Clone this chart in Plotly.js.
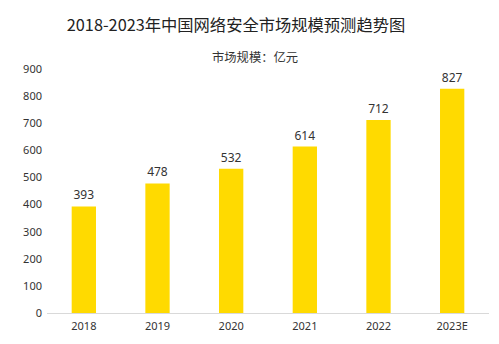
<!DOCTYPE html>
<html><head><meta charset="utf-8">
<script src="https://cdn.plot.ly/plotly-3.0.1.min.js"></script>
<style>html,body{margin:0;padding:0;background:#fff}#c{width:499px;height:344px}</style>
</head><body><div id="c"></div>
<script>
const categories = ["2018","2019","2020","2021","2022","2023E"];
const values = [393,478,532,614,712,827];
const yTicks = [0,100,200,300,400,500,600,700,800,900];

const trace = {
  type:"bar", x:categories, y:values,
  marker:{color:"#FFDA00"},
  text:values.map(String), textposition:"outside",
  textfont:{family:"Noto Sans, sans-serif", size:12, color:"#333"},
  cliponaxis:false, hoverinfo:"none"
};
const layout = {
  width:499, height:344,
  margin:{l:47, r:10, t:69, b:31},
  paper_bgcolor:"#fff", plot_bgcolor:"#fff",
  bargap:0.67,
  showlegend:false,
  font:{family:"Noto Sans, sans-serif", color:"#333"},
  title:{text:"2018-2023年中国网络安全市场规模预测趋势图", x:0.473, xanchor:"center", y:(344-25)/344, yanchor:"middle",
    font:{family:"Noto Sans CJK SC, sans-serif", size:16.3, color:"#222"}},
  annotations:[{text:"市场规模：亿元", xref:"paper", yref:"paper", x:0.47, y:(344-57-31)/(344-69-31), xanchor:"center", yanchor:"middle",
    showarrow:false, font:{family:"Noto Sans CJK SC, sans-serif", size:12.3, color:"#333"}}],
  xaxis:{type:"category", showline:true, linecolor:"#d9d9d9", linewidth:1, ticks:"", showgrid:false,
    tickfont:{size:11, color:"#333"}, ticklabelstandoff:3},
  yaxis:{range:[0,900], tickvals:yTicks, showgrid:false, zeroline:false, showline:false, ticks:"",
    tickfont:{size:11, color:"#333"}, ticklabelstandoff:4}
};
Plotly.newPlot("c",[trace],layout,{displayModeBar:false,staticPlot:true});
</script></body></html>
